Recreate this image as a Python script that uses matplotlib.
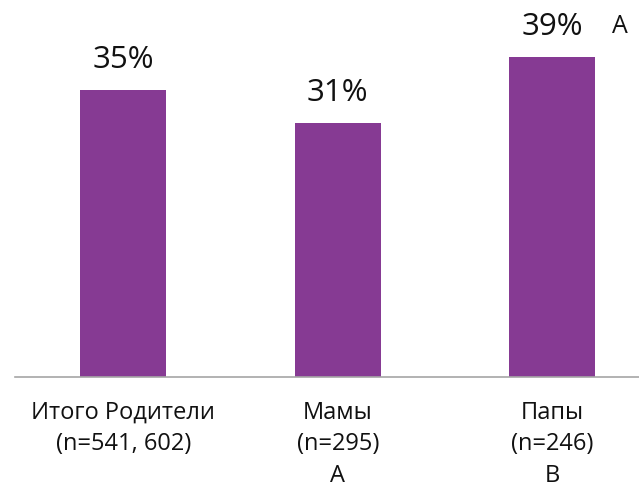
import matplotlib.pyplot as plt

# --- DATA ---
categories = ['Итого Родители\n(n=541, 602)', 'Мамы\n(n=295)\nA', 'Папы\n(n=246)\nB']
values = [35, 31, 39]
value_labels = ['35%', '31%', '39%']
sig_marks = ['', '', 'A']   # significance letters next to the value labels

BAR_COLOR = '#863A93'
AXIS_COLOR = '#A6A6A6'

plt.rcParams['font.family'] = ['Open Sans', 'DejaVu Sans']

fig = plt.figure(figsize=(6.39, 4.88), dpi=100)
ax = fig.add_axes([15 / 639, 111 / 488, 624 / 639, 369 / 488])

x = range(len(categories))
bars = ax.bar(x, values, width=0.4, color=BAR_COLOR)

ax.set_xlim(-0.505, 2.405)
ax.set_ylim(0, 45)

# value labels above bars
for xi, v, lab, mark in zip(x, values, value_labels, sig_marks):
    ax.annotate(lab, xy=(xi, v), xytext=(0, 11), textcoords='offset points',
                ha='center', va='bottom', fontsize=22.5, color='#111111')
    if mark:
        ax.annotate(mark, xy=(xi, v), xytext=(49, 13), textcoords='offset points',
                    ha='center', va='bottom', fontsize=18, color='#111111')

ax.set_xticks(list(x))
ax.set_xticklabels(categories, fontsize=17, color='#111111', linespacing=1.42)
ax.tick_params(axis='x', length=0, pad=17)
ax.set_yticks([])

for side in ['left', 'right', 'top']:
    ax.spines[side].set_visible(False)
ax.spines['bottom'].set_color(AXIS_COLOR)
ax.spines['bottom'].set_linewidth(1.2)

fig.savefig('out.png', dpi=100)
